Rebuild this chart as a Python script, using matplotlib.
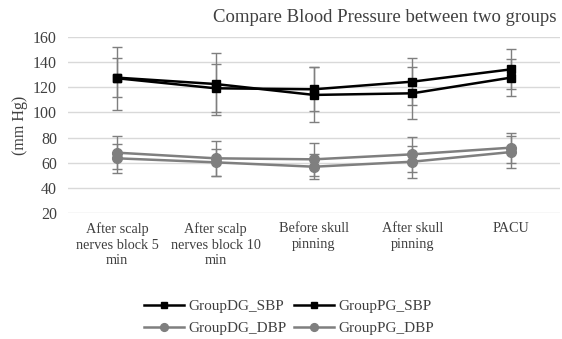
import matplotlib
matplotlib.use('Agg')
import matplotlib.pyplot as plt
import numpy as np

plt.rcParams['font.family'] = ['Liberation Serif', 'DejaVu Serif']

categories = ['After scalp\nnerves block 5\nmin', 'After scalp\nnerves block 10\nmin',
              'Before skull\npinning', 'After skull\npinning', 'PACU']

# mean values (mm Hg)
dg_sbp = [127.3, 119.3, 118.5, 124.6, 134.4]
pg_sbp = [127.8, 122.7, 114.0, 115.3, 127.8]
dg_dbp = [67.9, 63.4, 62.6, 66.6, 71.9]
pg_dbp = [63.4, 60.2, 56.7, 60.7, 68.4]

# error bar half widths (SD)
dg_sbp_err = [25.0, 19.0, 17.5, 19.0, 16.0]
pg_sbp_err = [15.7, 25.0, 22.0, 20.7, 14.5]
dg_dbp_err = [13.3, 14.0, 13.2, 14.0, 12.0]
pg_dbp_err = [11.5, 11.0, 10.0, 12.8, 12.5]

yticks = [20, 40, 60, 80, 100, 120, 140, 160]

text_col = '#404040'
err_col = '#7f7f7f'
dbp_col = '#7f7f7f'

fig = plt.figure(figsize=(5.62, 3.39), dpi=100)
ax = fig.add_axes([68 / 562, 1 - 212.7 / 339, 492 / 562, 175.4 / 339])

x = np.arange(len(categories))

series = [
    (dg_sbp, dg_sbp_err, 'GroupDG_SBP', 'black', 's', 6),
    (pg_sbp, pg_sbp_err, 'GroupPG_SBP', 'black', 's', 6),
    (dg_dbp, dg_dbp_err, 'GroupDG_DBP', dbp_col, 'o', 7),
    (pg_dbp, pg_dbp_err, 'GroupPG_DBP', dbp_col, 'o', 7),
]

handles = []
for vals, errs, name, col, mk, ms in series:
    ax.errorbar(x, vals, yerr=errs, fmt='none', ecolor=err_col, elinewidth=1.0,
                capsize=3.5, capthick=1.0, zorder=2)
    ln, = ax.plot(x, vals, color=col, lw=1.8, marker=mk, markersize=ms, label=name, zorder=3)
    handles.append(ln)

ax.set_xlim(-0.5, 4.5)
ax.set_ylim(20, 160)
ax.set_yticks(yticks)
ax.set_xticks(x)
ax.set_xticklabels(categories, fontsize=10.3, color=text_col, linespacing=1.25)
ax.tick_params(axis='y', labelsize=11.5, labelcolor=text_col, length=0, pad=8)
ax.tick_params(axis='x', length=0, pad=7)
ax.grid(axis='y', color='#d9d9d9', lw=1.0)
ax.set_axisbelow(True)
for s in ax.spines.values():
    s.set_visible(False)

fig.text(20 / 562, 1 - 125 / 339, '(mm Hg)', rotation=90, ha='center', va='center',
         fontsize=11.5, color=text_col)
fig.text(385 / 562, 1 - 18 / 339, 'Compare Blood Pressure between two groups',
         ha='center', va='center', fontsize=13.5, color=text_col)

# legend fills column-wise, so order handles to get SBP on the first row
leg_order = [handles[0], handles[2], handles[1], handles[3]]
fig.legend(handles=leg_order, ncol=2, loc='center', bbox_to_anchor=(289 / 562, 1 - 317.5 / 339),
           frameon=False, fontsize=11, handlelength=2.6, handletextpad=0.3,
           columnspacing=0.5, labelspacing=0.55, labelcolor=text_col, markerscale=0.8)

plt.savefig('out.png', dpi=100)
